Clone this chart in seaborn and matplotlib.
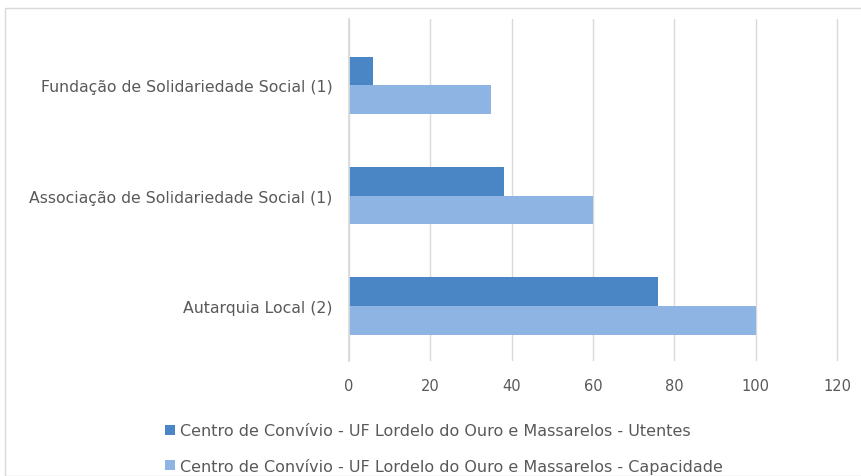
import pandas as pd
import seaborn as sns
import matplotlib.pyplot as plt
from matplotlib.patches import Rectangle

# data
categories = ["Fundação de Solidariedade Social (1)",
              "Associação de Solidariedade Social (1)",
              "Autarquia Local (2)"]
utentes = [6, 38, 76]
capacidade = [35, 60, 100]
series_names = ["Centro de Convívio - UF Lordelo do Ouro e Massarelos - Utentes",
                "Centro de Convívio - UF Lordelo do Ouro e Massarelos - Capacidade"]
x_ticks = [0, 20, 40, 60, 80, 100, 120]

records = []
for cat, u, c in zip(categories, utentes, capacidade):
    records.append({"categoria": cat, "serie": series_names[0], "valor": u})
    records.append({"categoria": cat, "serie": series_names[1], "valor": c})
df = pd.DataFrame(records)

palette = {series_names[0]: "#4A86C5", series_names[1]: "#8DB4E2"}

sns.set_theme(style="white")
plt.rcParams["font.family"] = ["DejaVu Sans"]

fig = plt.figure(figsize=(8.61, 4.77), dpi=100)
# x range padded a little so the 120 gridline is not clipped
px_per_unit = (837 - 349) / 120
ax = fig.add_axes([349 / 861, 1 - 362 / 477, (837 - 349 + 2 * px_per_unit) / 861, (362 - 20) / 477])

sns.barplot(data=df, y="categoria", x="valor", hue="serie", order=categories,
            hue_order=series_names, palette=palette, width=0.52, orient="h",
            saturation=1, ax=ax, linewidth=0)

ax.set_xlim(0, 122)
ax.set_ylim(2.5, -0.6)
ax.set_xticks(x_ticks)
ax.grid(axis="x", color="#D9D9D9", linewidth=1)
ax.set_axisbelow(True)
for s in ["top", "right", "bottom"]:
    ax.spines[s].set_visible(False)
ax.spines["left"].set_color("#D9D9D9")
ax.set_xlabel("")
ax.set_ylabel("")
ax.tick_params(axis="x", colors="#595959", labelsize=10.5, pad=12, length=0)
ax.tick_params(axis="y", colors="#595959", labelsize=11.3, pad=12, length=0)

handles, labels = ax.get_legend_handles_labels()
ax.legend_.remove()
fig.legend(handles, labels, loc="upper left", bbox_to_anchor=(151 / 861, 1 - 410 / 477),
           frameon=False, fontsize=11.5, labelcolor="#595959", handlelength=0.6,
           handleheight=0.6, handletextpad=0.3, labelspacing=1.2)

fig.patches.append(Rectangle((5 / 861, 0), 1.1, 1 - 9 / 477, transform=fig.transFigure,
                             fill=False, edgecolor="#D9D9D9", linewidth=1))

fig.savefig("out.png", dpi=100)
